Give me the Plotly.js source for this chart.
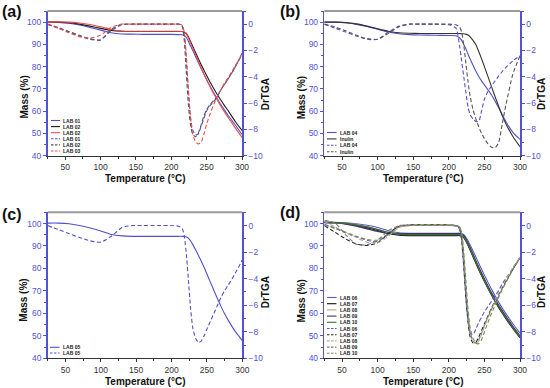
<!DOCTYPE html>
<html><head><meta charset="utf-8">
<script src="https://cdn.plot.ly/plotly-3.0.1.min.js"></script>
<style>html,body{margin:0;padding:0;background:#fff;}#chart{width:550px;height:388px;}</style>
</head><body><div id="chart"></div>
<script>
// ---------- DATA ----------
const temperature = [25, 40, 55, 70, 85, 100, 115, 130, 145, 160, 180, 200, 210, 215, 218, 221, 224, 227, 230, 234, 238, 242, 246, 250, 255, 260, 265, 270, 275, 280, 290, 300];

// panel (a)
const aNames = ['LAB 01', 'LAB 02', 'LAB 02', 'LAB 01', 'LAB 02', 'LAB 03'];
const aMass01 = [100, 99.9, 99.5, 98.7, 97.6, 96.4, 95.2, 94.7, 94.6, 94.5, 94.5, 94.5, 94.4, 94.3, 94.0, 93.2, 91.5, 89.5, 87.5, 84.8, 82.0, 79.3, 76.7, 74.2, 71.2, 68.3, 65.6, 63.0, 60.6, 58.3, 54.0, 49.5];
const aMass02 = [100, 100, 99.7, 99.1, 98.2, 97.2, 96.3, 95.9, 95.8, 95.8, 95.8, 95.8, 95.8, 95.8, 95.6, 95.0, 93.5, 91.5, 89.4, 86.6, 83.8, 81.1, 78.5, 76.0, 73.0, 70.2, 67.5, 65.0, 62.6, 60.4, 55.6, 51.3];
const aMass03 = [100, 100.1, 100, 99.6, 98.9, 97.9, 96.7, 96.0, 95.9, 95.9, 95.9, 95.9, 95.9, 95.8, 95.6, 94.8, 93.0, 90.8, 88.6, 85.6, 82.6, 79.7, 76.8, 74.1, 70.9, 67.8, 65.0, 62.3, 59.8, 57.4, 52.7, 48.2];
const aDtg01 = [0, -0.3, -0.6, -0.9, -1.15, -1.2, -0.5, -0.05, 0, 0, 0, 0, 0, -0.1, -0.6, -2.5, -5.0, -7.0, -8.0, -8.4, -8.35, -7.8, -7.2, -6.6, -6.2, -5.9, -5.5, -5.0, -4.6, -4.2, -3.3, -2.2];
const aDtg02 = [0, -0.25, -0.55, -0.85, -1.1, -1.2, -0.4, 0, 0, 0, 0, 0, 0, -0.1, -1.0, -3.5, -6.0, -7.6, -8.3, -8.55, -8.3, -7.7, -7.0, -6.5, -6.1, -5.8, -5.5, -5.0, -4.6, -4.2, -3.3, -2.3];
const aDtg03 = [0, -0.3, -0.65, -0.95, -1.05, -0.85, -0.25, 0, 0, 0, 0, 0, 0, -0.05, -0.5, -2.2, -4.8, -7.0, -8.3, -8.9, -9.1, -9.0, -8.4, -7.6, -6.8, -6.1, -5.5, -5.0, -4.5, -4.1, -3.2, -2.3];

// panel (b)
const bNames = ['LAB 04', 'Inulin', 'LAB 04', 'Inulin'];
const bMass04 = [100, 100, 99.7, 99.0, 98.0, 96.8, 95.6, 94.8, 94.4, 94.2, 94.1, 94.0, 93.9, 93.0, 91.8, 90.0, 87.9, 85.6, 83.4, 80.6, 77.9, 75.6, 73.6, 71.8, 69.6, 67.3, 64.5, 61.5, 58.4, 55.4, 50.5, 47.3];
const bMassIn = [100, 100, 99.8, 99.2, 98.2, 97.0, 95.9, 95.2, 95.0, 94.9, 94.9, 94.9, 94.9, 94.9, 94.8, 94.8, 94.6, 94.2, 93.4, 91.8, 89.8, 86.8, 83.5, 80.0, 75.5, 71.0, 66.5, 62.2, 58.0, 54.5, 48.6, 44.0];
const bDtg04 = [0, -0.3, -0.6, -0.9, -1.15, -1.15, -0.6, -0.15, 0, 0, 0, -0.05, -0.3, -1.6, -2.8, -4.0, -5.2, -6.3, -6.9, -7.2, -7.4, -7.4, -6.6, -5.7, -5.1, -4.7, -4.3, -3.95, -3.6, -3.3, -2.8, -2.4];
const bDtgIn = [0, -0.2, -0.5, -0.85, -1.1, -1.15, -0.7, -0.2, 0, 0, 0, 0, -0.05, -0.2, -0.6, -1.6, -3.0, -4.4, -5.5, -6.5, -7.2, -7.8, -8.3, -8.7, -9.1, -9.35, -9.4, -9.0, -7.6, -6.2, -3.8, -2.4];

// panel (c)
const cNames = ['LAB 05', 'LAB 05'];
const cMass05 = [100.2, 100.2, 99.9, 99.1, 98.0, 96.7, 95.1, 94.5, 94.3, 94.3, 94.3, 94.3, 94.3, 94.3, 94.2, 94.0, 93.4, 92.2, 90.6, 88.3, 85.8, 83.2, 80.5, 77.5, 73.8, 70.1, 66.5, 63.0, 59.8, 57.0, 52.0, 47.9];
const cDtg05 = [0, -0.3, -0.6, -0.9, -1.15, -1.25, -0.8, -0.15, 0, 0, 0, 0, -0.05, -0.2, -0.8, -2.2, -4.2, -6.3, -7.7, -8.5, -8.8, -8.7, -8.3, -7.8, -7.2, -6.6, -6.0, -5.4, -4.9, -4.5, -3.6, -2.6];

// panel (d)
const dNames = ['LAB 06', 'LAB 07', 'LAB 08', 'LAB 09', 'LAB 10', 'LAB 06', 'LAB 07', 'LAB 08', 'LAB 09', 'LAB 10'];
const dMass06 = [100.5, 100.5, 100.3, 99.9, 99.2, 98.2, 96.8, 95.9, 95.7, 95.7, 95.7, 95.7, 95.7, 95.7, 95.5, 95.0, 93.9, 92.3, 90.4, 87.8, 85.1, 82.3, 79.6, 77.0, 73.8, 70.7, 67.8, 65.0, 62.4, 60.0, 55.4, 51.2];
const dMass07 = [100.5, 100.4, 100.0, 99.3, 98.2, 96.9, 95.6, 94.9, 94.7, 94.7, 94.7, 94.7, 94.7, 94.7, 94.5, 93.8, 92.3, 90.3, 88.2, 85.3, 82.4, 79.6, 76.9, 74.3, 71.2, 68.2, 65.4, 62.7, 60.2, 57.8, 53.3, 49.2];
const dMass08 = [100.3, 100.3, 100.1, 99.5, 98.6, 97.4, 96.1, 95.4, 95.2, 95.2, 95.2, 95.2, 95.2, 95.2, 95.0, 94.4, 93.0, 91.1, 89.0, 86.1, 83.2, 80.4, 77.7, 75.1, 72.0, 69.0, 66.2, 63.5, 61.0, 58.6, 54.0, 49.8];
const dMass09 = [100.6, 100.4, 99.8, 98.9, 97.7, 96.5, 95.7, 95.5, 95.5, 95.5, 95.5, 95.5, 95.5, 95.5, 95.3, 94.6, 93.1, 91.2, 89.1, 86.2, 83.3, 80.5, 77.8, 75.2, 72.1, 69.1, 66.3, 63.6, 61.1, 58.7, 54.1, 49.9];
const dMass10 = [100.4, 100.3, 100.0, 99.4, 98.5, 97.3, 96.0, 95.2, 95.0, 95.0, 95.0, 95.0, 95.0, 95.0, 94.8, 94.1, 92.6, 90.6, 88.5, 85.6, 82.7, 79.9, 77.2, 74.6, 71.5, 68.5, 65.7, 63.0, 60.5, 58.1, 53.6, 49.5];
const dDtg06 = [0.1, -0.2, -0.55, -0.85, -1.1, -1.2, -0.6, -0.05, 0, 0, 0, 0, -0.05, -0.3, -1.2, -3.2, -5.5, -7.2, -8.1, -8.2, -7.8, -7.3, -6.9, -6.5, -6.1, -5.7, -5.3, -4.9, -4.4, -4.0, -3.2, -2.4];
const dDtg07 = [0, -0.5, -1.0, -1.4, -1.5, -1.3, -0.6, -0.05, 0.05, 0.05, 0.05, 0.05, 0, -0.2, -1.0, -3.0, -5.4, -7.3, -8.4, -8.85, -8.8, -8.4, -7.9, -7.4, -6.8, -6.2, -5.7, -5.2, -4.7, -4.2, -3.3, -2.4];
const dDtg08 = [0.3, -0.1, -0.5, -0.9, -1.25, -1.3, -0.8, -0.15, 0, 0, 0, 0, 0, -0.1, -0.6, -2.3, -4.6, -6.7, -8.0, -8.7, -8.9, -8.7, -8.2, -7.6, -6.9, -6.3, -5.7, -5.1, -4.6, -4.1, -3.2, -2.4];
const dDtg09 = [0.4, 0.2, -0.7, -1.4, -1.45, -1.1, -0.4, 0, 0.05, 0.05, 0.05, 0.05, 0, -0.1, -0.8, -2.6, -4.9, -6.9, -8.1, -8.7, -8.85, -8.6, -8.1, -7.5, -6.9, -6.3, -5.8, -5.3, -4.8, -4.3, -3.3, -2.5];
const dDtg10 = [0, -0.2, -0.5, -0.8, -1.05, -1.1, -0.7, -0.1, 0, 0, 0, 0, 0, -0.1, -0.5, -2.0, -4.2, -6.3, -7.7, -8.5, -8.85, -8.9, -8.6, -8.0, -7.3, -6.6, -6.0, -5.4, -4.8, -4.3, -3.3, -2.4];

const panelLabels = ['(a)', '(b)', '(c)', '(d)'];
const massTitle = 'Mass (%)';
const dtgTitle = 'DrTGA';
const tempTitle = 'Temperature (°C)';

// ---------- STYLE / LAYOUT ----------
const W = 550, H = 388;
const px = v => v / W, py = v => 1 - v / H;
const FONT = 'Liberation Sans, Arial, Helvetica, sans-serif';
const AXB = '#5252d6';
const BLUE = '#5050cc', BLACK = '#1a1a1a', RED = '#f24a4a', GRAY = '#555555';
const DASH = '4px,2.5px';

const panels = [
  { dom: { x: [47.5, 242], y: [11, 155.7] }, lab: [12, 11.7], mass: [24, 97.5], dtg: [265, 94.3], temp: [145.5, 178.3],
    leg: { x0: 51, x1: 60, tx: 61.5, y0: 120.5, dy: 6.1 },
    names: aNames, ys: [aMass01, aMass02, aMass03, aDtg01, aDtg02, aDtg03],
    colors: [BLUE, BLACK, RED, BLUE, GRAY, RED], right: [0, 0, 0, 1, 1, 1] },
  { dom: { x: [324.3, 520], y: [11, 155.7] }, lab: [290, 11.7], mass: [301.7, 97.5], dtg: [541.7, 94.3], temp: [423.3, 178.3],
    leg: { x0: 327, x1: 336.5, tx: 338.5, y0: 132.5, dy: 6.4 },
    names: bNames, ys: [bMass04, bMassIn, bDtg04, bDtgIn],
    colors: [BLUE, '#333333', BLUE, GRAY], right: [0, 0, 1, 1] },
  { dom: { x: [47.7, 242.3], y: [212.3, 358.3] }, lab: [12, 214], mass: [24, 300.7], dtg: [265, 292.3], temp: [145.5, 381.7],
    leg: { x0: 50, x1: 59.5, tx: 61.5, y0: 347.3, dy: 5.7 },
    names: cNames, ys: [cMass05, cDtg05],
    colors: [BLUE, BLUE], right: [0, 1] },
  { dom: { x: [324.3, 520], y: [212.3, 358.3] }, lab: [290, 212.3], mass: [301.7, 300.7], dtg: [541.7, 292.3], temp: [423.3, 381.7],
    leg: { x0: 327, x1: 336.5, tx: 338.5, y0: 297.5, dy: 6.2 },
    names: dNames, ys: [dMass06, dMass07, dMass08, dMass09, dMass10, dDtg06, dDtg07, dDtg08, dDtg09, dDtg10],
    colors: ['#5656d2', '#111111', '#b9a68c', '#3f3455', '#3d6b3d', '#5656d2', '#262626', '#b9a68c', '#7a7a7a', '#6f8f4f'],
    right: [0, 0, 0, 0, 0, 1, 1, 1, 1, 1] }
];

const traces = [], shapes = [], annotations = [];
const layout = {
  width: W, height: H, margin: { l: 0, r: 0, t: 0, b: 0 },
  paper_bgcolor: '#fff', plot_bgcolor: '#fff', showlegend: false,
  font: { family: FONT, color: '#222' }
};

panels.forEach((p, i) => {
  const xName = i === 0 ? 'xaxis' : 'xaxis' + (i + 1);
  const xRef = i === 0 ? 'x' : 'x' + (i + 1);
  const yL = 2 * i + 1, yR = 2 * i + 2;
  const yLName = yL === 1 ? 'yaxis' : 'yaxis' + yL;
  const yLRef = yL === 1 ? 'y' : 'y' + yL;
  const yRName = 'yaxis' + yR, yRRef = 'y' + yR;

  layout[xName] = {
    domain: [px(p.dom.x[0]), px(p.dom.x[1])], range: [25, 300], anchor: yLRef,
    tick0: 0, dtick: 50, ticks: 'outside', ticklen: 3, tickwidth: 1, tickcolor: '#333',
    minor: { dtick: 25, ticks: 'outside', ticklen: 2, tickcolor: '#333' },
    showline: true, linecolor: '#333', linewidth: 1, showgrid: false, zeroline: false,
    tickfont: { size: 8.5, color: '#333', family: FONT }
  };
  layout[yLName] = {
    domain: [py(p.dom.y[1]), py(p.dom.y[0])], range: [40, 105], anchor: xRef,
    tick0: 40, dtick: 10, ticks: 'outside', ticklen: 3, tickwidth: 1, tickcolor: AXB,
    minor: { dtick: 5, ticks: 'outside', ticklen: 2, tickcolor: AXB },
    showline: true, linecolor: AXB, linewidth: 1.5, showgrid: false, zeroline: false,
    tickfont: { size: 8.5, color: AXB, family: FONT }
  };
  layout[yRName] = {
    overlaying: yLRef, side: 'right', anchor: xRef, range: [-10, 1],
    tick0: 0, dtick: 2, ticks: 'outside', ticklen: 3, tickwidth: 1, tickcolor: AXB,
    minor: { dtick: 1, ticks: 'outside', ticklen: 2, tickcolor: AXB },
    showline: true, linecolor: AXB, linewidth: 1.5, showgrid: false, zeroline: false,
    tickfont: { size: 8.5, color: AXB, family: FONT }
  };

  // data traces
  p.ys.forEach((y, k) => {
    const isR = p.right[k] === 1;
    traces.push({
      type: 'scatter', mode: 'lines', x: temperature, y: y, name: p.names[k],
      xaxis: xRef, yaxis: isR ? yRRef : yLRef,
      line: { color: p.colors[k], width: (i === 3 && !isR && k > 0) ? 1.4 : 1.1, dash: isR ? DASH : 'solid', shape: 'spline', smoothing: 0.6 },
      hoverinfo: 'skip'
    });
    // legend entry
    const yy = p.leg.y0 + k * p.leg.dy;
    shapes.push({ type: 'line', xref: 'paper', yref: 'paper', x0: px(p.leg.x0), x1: px(p.leg.x1), y0: py(yy), y1: py(yy),
      line: { color: p.colors[k], width: 1.1, dash: isR ? '2.5px,1.5px' : 'solid' } });
    annotations.push({ xref: 'paper', yref: 'paper', x: px(p.leg.tx), y: py(yy), xanchor: 'left', yanchor: 'middle',
      text: '<b>' + p.names[k] + '</b>', showarrow: false, borderpad: 0,
      font: { size: 5, color: '#222', family: FONT } });
  });

  // top frame line
  shapes.push({ type: 'line', xref: xRef + ' domain', yref: yLRef + ' domain', x0: 0, x1: 1, y0: 1, y1: 1,
    line: { color: '#9a9a9a', width: 2 } });

  // panel label and axis titles
  annotations.push({ xref: 'paper', yref: 'paper', x: px(p.lab[0]), y: py(p.lab[1]), xanchor: 'center', yanchor: 'middle',
    text: '<b>' + panelLabels[i] + '</b>', showarrow: false, font: { size: 16, color: '#111', family: FONT } });
  annotations.push({ xref: 'paper', yref: 'paper', x: px(p.mass[0]), y: py(p.mass[1]), xanchor: 'center', yanchor: 'middle',
    text: '<b>' + massTitle + '</b>', textangle: -90, showarrow: false, font: { size: 10, color: '#111', family: FONT } });
  annotations.push({ xref: 'paper', yref: 'paper', x: px(p.dtg[0]), y: py(p.dtg[1]), xanchor: 'center', yanchor: 'middle',
    text: '<b>' + dtgTitle + '</b>', textangle: -90, showarrow: false, font: { size: 10, color: '#111', family: FONT } });
  annotations.push({ xref: 'paper', yref: 'paper', x: px(p.temp[0]), y: py(p.temp[1]), xanchor: 'center', yanchor: 'middle',
    text: '<b>' + tempTitle + '</b>', showarrow: false, font: { size: 10, color: '#111', family: FONT } });
});

layout.shapes = shapes;
layout.annotations = annotations;

Plotly.newPlot('chart', traces, layout, { staticPlot: true, displayModeBar: false });
</script>
</body></html>
